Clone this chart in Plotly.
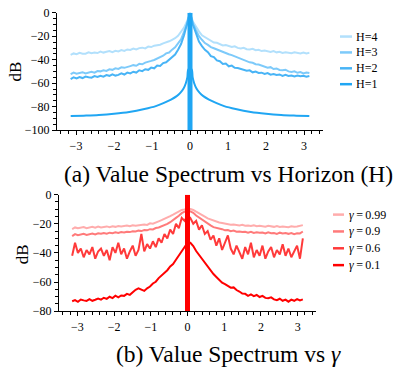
import numpy as np
import plotly.graph_objects as go

# ---------------- data ----------------
freq = np.linspace(-np.pi, np.pi, 81)

h1_freq = [-3.14, -2.8, -2.4, -2.0, -1.6, -1.2, -0.9, -0.7, -0.5, -0.35, -0.25, -0.17, -0.11, -0.07, -0.04,
           0.04, 0.07, 0.11, 0.17, 0.25, 0.35, 0.5, 0.7, 0.9, 1.2, 1.6, 2.0, 2.4, 2.8, 3.14]
h1_db = [-88, -87.6, -87, -86, -84.5, -82, -79.5, -77, -74, -71, -68, -64.5, -60, -55, -48,
         -48, -55, -60, -64.5, -68, -71, -74, -77, -79.5, -82, -84.5, -86, -87, -87.6, -88]

h2_db = [-56.4, -55.0, -55.9, -54.7, -55.6, -54.3, -54.9, -55.3, -53.9, -54.6, -53.6,
         -54.4, -53.1, -53.7, -52.4, -53.5, -52.9, -51.6, -52.6, -51.0, -51.7,
         -50.2, -50.9, -49.0, -49.7, -48.1, -48.6, -46.7, -47.3, -44.9, -45.3,
         -42.8, -42.2, -40.0, -38.4, -35.6, -31.4, -26.6, -19.2, -10.6, 0.0,
         -10.2, -18.4, -24.6, -28.4, -31.5, -33.6, -36.9, -37.8, -40.6, -41.3,
         -43.6, -43.2, -45.6, -45.0, -46.8, -47.1, -48.0, -48.7, -49.4, -49.0,
         -50.7, -50.1, -51.2, -51.0, -52.1, -51.3, -52.7, -52.2, -53.0, -52.5,
         -53.7, -52.9, -53.8, -53.4, -54.3, -53.5, -54.1, -53.7, -54.5, -53.9]

h3_db = [-52.3, -51.0, -51.9, -51.5, -50.6, -51.7, -50.8, -50.2, -51.0, -49.6, -49.9,
         -49.0, -49.5, -48.1, -48.6, -47.3, -47.8, -46.4, -46.9, -45.8, -45.4,
         -44.6, -45.1, -43.5, -43.9, -42.4, -42.0, -41.0, -40.2, -39.1, -37.8,
         -36.6, -34.6, -33.9, -31.4, -29.4, -26.0, -22.6, -16.3, -9.6, 0.0,
         -9.2, -14.8, -19.9, -23.0, -25.8, -27.4, -29.3, -30.2, -31.3, -32.4,
         -33.4, -34.2, -35.3, -36.1, -37.2, -38.0, -39.3, -40.1, -40.9, -42.2,
         -42.6, -43.8, -44.1, -45.2, -45.6, -46.7, -46.3, -47.9, -47.4, -48.7,
         -49.0, -48.5, -49.9, -50.4, -49.8, -51.1, -50.5, -51.6, -50.8, -51.3]

h4_db = [-35.8, -34.6, -35.2, -34.1, -34.9, -34.8, -33.6, -34.5, -33.9, -34.3, -33.1,
         -33.9, -33.2, -32.6, -33.5, -32.4, -32.9, -31.8, -32.5, -31.2, -31.6,
         -30.4, -31.3, -30.1, -29.7, -30.3, -28.8, -29.2, -28.0, -27.9, -27.2,
         -26.0, -25.4, -24.3, -23.0, -21.7, -19.6, -16.4, -12.6, -7.2, 0.0,
         -7.6, -12.2, -15.8, -19.2, -20.8, -22.6, -23.6, -25.3, -25.6, -26.8,
         -27.8, -27.5, -28.7, -29.2, -28.6, -29.9, -30.4, -29.8, -31.0, -31.3,
         -30.7, -31.9, -31.5, -32.6, -32.1, -32.9, -33.4, -32.6, -33.7, -33.2,
         -34.2, -33.6, -33.8, -34.5, -33.7, -34.4, -34.7, -33.9, -34.6, -34.1]

g099_db = [-23.6, -22.5, -23.1, -22.8, -22.3, -23.0, -22.4, -22.1, -22.7, -21.9, -22.5,
           -22.0, -21.8, -22.4, -21.7, -22.1, -21.5, -21.9, -21.6, -21.2, -21.7,
           -21.0, -21.3, -20.9, -20.7, -20.5, -20.8, -19.7, -19.9, -18.9, -18.3,
           -17.5, -16.7, -15.7, -14.7, -13.7, -12.5, -11.7, -10.5, -10.1, -9.5,
           -9.9, -10.5, -11.7, -12.7, -14.1, -15.1, -16.3, -17.1, -17.9, -18.5,
           -19.1, -19.4, -19.9, -20.2, -20.6, -20.5, -20.9, -21.1, -20.7, -21.3,
           -21.2, -21.5, -21.0, -21.7, -21.4, -21.6, -22.0, -21.3, -21.8, -22.1,
           -21.5, -22.2, -21.8, -21.9, -22.3, -21.7, -22.1, -21.9, -21.5, -20.9]

g09_db = [-28.5, -27.1, -27.9, -27.4, -26.9, -27.6, -27.0, -26.7, -27.3, -26.5, -26.9,
          -26.4, -26.8, -26.1, -26.5, -25.9, -26.3, -25.7, -25.9, -25.4, -25.7,
          -25.1, -25.3, -24.7, -25.0, -24.3, -24.5, -23.7, -23.9, -22.9, -22.5,
          -21.7, -21.1, -20.1, -18.9, -17.7, -15.9, -14.5, -12.7, -11.7, -10.9,
          -11.5, -12.5, -14.3, -15.7, -17.5, -18.7, -20.3, -21.1, -22.3, -22.7,
          -23.5, -23.7, -24.5, -24.3, -25.1, -24.7, -25.5, -25.3, -25.7, -25.5,
          -26.1, -25.5, -26.3, -25.9, -26.2, -26.0, -26.7, -25.9, -26.5, -26.3,
          -26.9, -26.1, -26.7, -26.4, -26.9, -26.3, -27.1, -26.5, -26.6, -25.3]

g06_db = [-42, -33, -40, -37, -43, -38, -41, -36, -44, -39, -37, -42, -38, -45, -36, -40, -33, -41, -37, -44,
          -39, -35, -42, -38, -27, -39, -34, -37, -32, -36, -30, -33, -27, -30, -24, -27, -20, -23, -16, -18,
          -14,
          -16, -20, -18, -24, -21, -27, -25, -31, -28, -35, -30, -38, -33, -28, -37, -41, -35, -40, -44, -36,
          -41, -33, -43, -38, -42, -35, -44, -39, -36, -43, -38, -41, -34, -42, -37, -43, -39, -35, -44, -30]

g01_db = [-73.2, -72.4, -73.6, -72.0, -72.6, -73.0, -71.8, -72.9, -72.2, -71.4, -72.1,
          -70.8, -71.6, -70.1, -71.0, -69.4, -70.5, -69.2, -69.5, -68.1, -68.8,
          -66.9, -65.3, -64.4, -65.5, -66.1, -64.3, -63.1, -61.0, -59.8, -57.3,
          -55.7, -53.5, -51.9, -49.3, -47.7, -44.7, -42.1, -38.9, -35.9, -33.1,
          -33.1, -35.3, -38.7, -41.3, -44.7, -47.1, -49.9, -51.7, -54.5, -56.5,
          -58.7, -60.5, -61.5, -62.5, -63.9, -63.7, -65.5, -66.5, -67.9, -68.1,
          -69.5, -68.5, -69.7, -68.9, -70.3, -69.5, -70.9, -71.1, -70.5, -71.9,
          -72.5, -71.5, -72.9, -72.1, -73.5, -72.1, -72.9, -71.7, -72.7, -71.9]

# DC component at zero frequency (peak 0 dB, falling below the axis floor)
dc_freq = [0.0, 0.0]
h_dc_db = [-100, 0]
g_dc_db = [-80, 0]

h_names = ["H=4", "H=3", "H=2", "H=1"]
g_names = ["<i>γ</i>\u2009=\u20090.99", "<i>γ</i>\u2009=\u20090.9", "<i>γ</i>\u2009=\u20090.6", "<i>γ</i>\u2009=\u20090.1"]
x_ticks = [-3, -2, -1, 0, 1, 2, 3]

# ---------------- style ----------------
h_colors = ["rgb(178,224,252)", "rgb(125,202,250)", "rgb(72,180,246)", "rgb(32,166,243)"]
g_colors = ["rgb(255,172,172)", "rgb(255,122,122)", "rgb(255,58,58)", "rgb(255,0,0)"]
FONT = "Liberation Serif"
W, H = 396, 373

fig = go.Figure()

h_series = [(freq, h4_db), (freq, h3_db), (freq, h2_db), (h1_freq, h1_db)]
for (xs, ys), name, col in zip(h_series, h_names, h_colors):
    fig.add_trace(go.Scatter(x=xs, y=ys, mode="lines", name=name,
                             line=dict(color=col, width=2, shape="spline" if name == "H=1" else "linear"),
                             showlegend=False, xaxis="x", yaxis="y", hoverinfo="skip"))
fig.add_trace(go.Scatter(x=dc_freq, y=h_dc_db, mode="lines", line=dict(color=h_colors[3], width=5),
                         showlegend=False, xaxis="x", yaxis="y", hoverinfo="skip"))

g_series = [g099_db, g09_db, g06_db, g01_db]
for ys, name, col in zip(g_series, g_names, g_colors):
    fig.add_trace(go.Scatter(x=freq, y=ys, mode="lines", name=name, line=dict(color=col, width=2),
                             showlegend=False, xaxis="x2", yaxis="y2", hoverinfo="skip"))
fig.add_trace(go.Scatter(x=dc_freq, y=g_dc_db, mode="lines", line=dict(color=g_colors[3], width=5),
                         showlegend=False, xaxis="x2", yaxis="y2", hoverinfo="skip"))

# ---------------- legends (key line + label, paper coords) ----------------
shapes, annotations = [], []

def add_legend(names, colors, x0, x1, xt, y_first, step):
    for i, (nm, col) in enumerate(zip(names, colors)):
        yp = 1 - (y_first + i * step) / H
        shapes.append(dict(type="line", xref="paper", yref="paper", x0=x0 / W, x1=x1 / W, y0=yp, y1=yp,
                           line=dict(color=col, width=2.5)))
        annotations.append(dict(text=nm, x=xt / W, y=yp, xref="paper", yref="paper", showarrow=False,
                                xanchor="left", yanchor="middle", font=dict(family=FONT, size=12)))

add_legend(h_names, h_colors, 340, 352, 354, 30.7, 16.5)
add_legend(g_names, g_colors, 333, 344, 347, 215.7, 17.5)

annotations += [
    dict(text="(a) Value Spectrum vs Horizon (H)", x=228 / W, y=1 - 173 / H, xref="paper", yref="paper",
         showarrow=False, font=dict(family=FONT, size=23.5), xanchor="center", yanchor="middle"),
    dict(text="(b) Value Spectrum vs <i>γ</i>", x=228 / W, y=1 - 361 / H, xref="paper", yref="paper",
         showarrow=False, font=dict(family=FONT, size=23.5), xanchor="center", yanchor="middle"),
    # y-axis titles
    dict(text="dB", x=15 / W, y=1 - 67 / H, xref="paper", yref="paper", showarrow=False, textangle=-90,
         font=dict(family=FONT, size=17), xanchor="center", yanchor="middle"),
    dict(text="dB", x=22 / W, y=1 - 257 / H, xref="paper", yref="paper", showarrow=False, textangle=-90,
         font=dict(family=FONT, size=17), xanchor="center", yanchor="middle"),
]

def ax_common(**kw):
    d = dict(showline=True, linecolor="black", linewidth=1.3, ticks="outside", ticklen=4, tickwidth=1,
             tickcolor="black", showgrid=False, zeroline=False, mirror=False,
             tickfont=dict(family=FONT, size=12, color="black"))
    d.update(kw)
    return d

fig.update_layout(
    width=W, height=H, margin=dict(l=0, r=0, t=0, b=0),
    paper_bgcolor="white", plot_bgcolor="white", showlegend=False,
    font=dict(family=FONT, color="black"),
    xaxis=ax_common(domain=[57 / W, 323 / W], anchor="y", range=[-3.5, 3.5], tickvals=x_ticks,
                    minor=dict(ticks="outside", ticklen=2.5, dtick=0.2, tickcolor="black")),
    yaxis=ax_common(domain=[1 - 128 / H, 1 - 6 / H], anchor="x", range=[-100, 0], dtick=20,
                    minor=dict(ticks="outside", ticklen=2.5, dtick=5, tickcolor="black")),
    xaxis2=ax_common(domain=[59 / W, 316 / W], anchor="y2", range=[-3.5, 3.5], tickvals=x_ticks,
                     minor=dict(ticks="outside", ticklen=2.5, dtick=0.2, tickcolor="black")),
    yaxis2=ax_common(domain=[1 - 316 / H, 1 - 195 / H], anchor="x2", range=[-80, 0], dtick=20,
                     minor=dict(ticks="outside", ticklen=2.5, dtick=5, tickcolor="black")),
    shapes=shapes, annotations=annotations,
)

fig.write_html("out.html")
